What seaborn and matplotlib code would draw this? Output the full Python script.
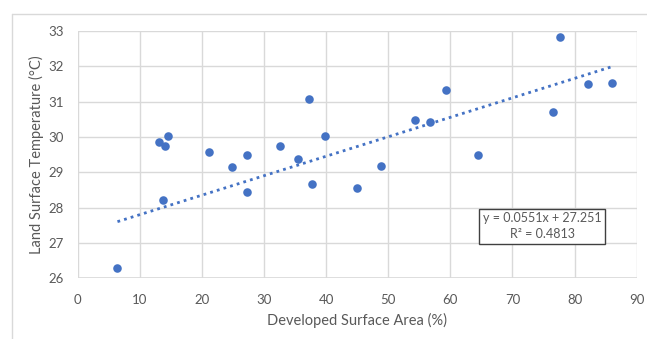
import seaborn as sns
import matplotlib.pyplot as plt
import matplotlib
from matplotlib.lines import Line2D
import numpy as np
import pandas as pd

# values
developed_area = [6.4, 13.7, 13.1, 14.1, 14.5, 21.2, 24.8, 27.3, 27.3, 32.6, 35.5, 37.3,
                  37.7, 39.8, 44.9, 48.8, 54.3, 56.7, 59.3, 64.5, 76.6, 77.7, 82.2, 86.1]
surface_temp = [26.30, 28.21, 29.86, 29.74, 30.04, 29.58, 29.16, 29.50, 28.45, 29.74, 29.38, 31.08,
                28.67, 30.04, 28.56, 29.19, 30.48, 30.43, 31.34, 29.48, 30.72, 32.82, 31.50, 31.52]
slope = 0.0551
intercept = 27.251
r_squared = 0.4813
x_ticks = [0, 10, 20, 30, 40, 50, 60, 70, 80, 90]
y_ticks = [26, 27, 28, 29, 30, 31, 32, 33]

df = pd.DataFrame({'area': developed_area, 'temp': surface_temp})

sns.set_theme(style='whitegrid')
plt.rcParams['font.family'] = ['Lato', 'DejaVu Sans']
grey_txt = '#595959'
grid_c = '#d9d9d9'
blue = '#4472C4'

fig = plt.figure(figsize=(6.47, 3.39), dpi=100)
ax = fig.add_axes([0.1201, 0.179, 0.864, 0.7296])

sns.scatterplot(data=df, x='area', y='temp', ax=ax, color=blue, s=38, linewidth=0, zorder=3)

# linear trendline (dotted), coefficients from the chart label
xs = np.array([min(developed_area), max(developed_area)])
ax.plot(xs, slope * xs + intercept, linestyle=(0, (1, 1.5)), color=blue, linewidth=2, zorder=2)

ax.set_xlim(0, 90)
ax.set_ylim(26, 33)
ax.set_xticks(x_ticks)
ax.set_yticks(y_ticks)
ax.grid(True, color=grid_c, linewidth=1)
for s in ax.spines.values():
    s.set_visible(False)
ax.axhline(26, color=grid_c, linewidth=1.2, zorder=1)
ax.tick_params(axis='both', length=0, labelsize=9.5, labelcolor=grey_txt)
ax.tick_params(axis='x', pad=11)
ax.tick_params(axis='y', pad=10)

ax.set_xlabel('Developed Surface Area (%)', fontsize=10.5, color=grey_txt, labelpad=5)
ax.set_ylabel('Land Surface Temperature (°C)', fontsize=10.5, color=grey_txt, labelpad=3)

ax.text(74.8, 27.48, f'y = {slope}x + {intercept}\nR² = {r_squared}', ha='center', va='center',
        fontsize=9, color=grey_txt, linespacing=1.35, zorder=4,
        bbox=dict(boxstyle='square,pad=0.3', facecolor='white', edgecolor='#404040', linewidth=1))

# outer chart frame (top and left edge visible)
fig.add_artist(Line2D([11.7 / 647, 1.0], [1 - 14.3 / 339, 1 - 14.3 / 339], color=grid_c, linewidth=1))
fig.add_artist(Line2D([11.7 / 647, 11.7 / 647], [0.0, 1 - 14.3 / 339], color=grid_c, linewidth=1))

fig.savefig('out.png', dpi=100, facecolor='white')
